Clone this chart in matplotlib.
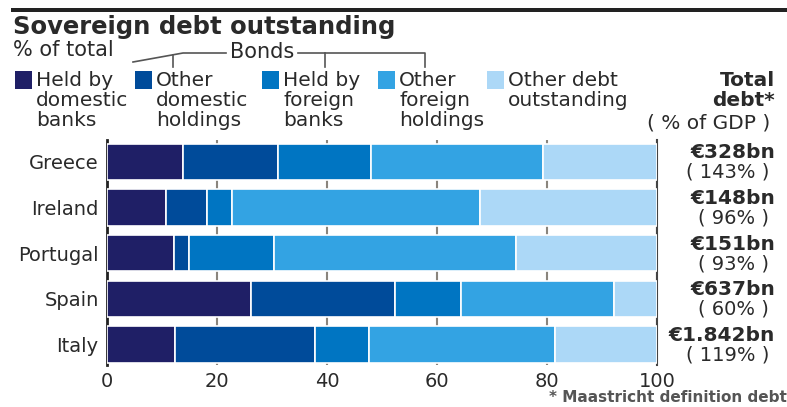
import matplotlib.pyplot as plt
from matplotlib.transforms import blended_transform_factory
from matplotlib.lines import Line2D
from matplotlib.patches import Rectangle

countries = ['Greece', 'Ireland', 'Portugal', 'Spain', 'Italy']
held_domestic_banks = [13.9, 10.7, 12.2, 26.1, 12.3]
other_domestic = [17.2, 7.4, 2.7, 26.2, 25.5]
held_foreign_banks = [16.8, 4.7, 15.4, 12.1, 9.9]
other_foreign = [31.3, 45.0, 44.0, 27.8, 33.7]
other_debt = [20.8, 32.2, 25.7, 7.8, 18.6]
total_debt = ['€328bn', '€148bn', '€151bn', '€637bn', '€1.842bn']
pct_gdp = ['( 143% )', '( 96% )', '( 93% )', '( 60% )', '( 119% )']

series = [held_domestic_banks, other_domestic, held_foreign_banks, other_foreign, other_debt]
colors = ['#1f1f66', '#004b9a', '#0075c2', '#33a3e3', '#acd8f7']
legend_labels = ['Held by\ndomestic\nbanks', 'Other\ndomestic\nholdings', 'Held by\nforeign\nbanks',
                 'Other\nforeign\nholdings', 'Other debt\noutstanding']

txt = '#2a2a2a'
fig = plt.figure(figsize=(7.87, 4.07), dpi=100)
ax = fig.add_axes([0.136, 0.103, 0.699, 0.553])

ypos = list(range(len(countries)))
left = [0] * len(countries)
for vals, c in zip(series, colors):
    ax.barh(ypos, vals, left=left, height=0.8, color=c, edgecolor='white', linewidth=1.2, zorder=3)
    left = [l + v for l, v in zip(left, vals)]

ax.set_xlim(0, 100)
ax.set_ylim(4.45, -0.48)
ax.set_xticks([0, 20, 40, 60, 80, 100])
ax.set_yticks(ypos)
ax.set_yticklabels(countries, fontsize=14, color=txt)
ax.tick_params(axis='y', length=0, pad=6)
ax.tick_params(axis='x', length=0, labelsize=14, colors=txt, pad=5)
ax.grid(axis='x', color='#8a857d', linewidth=1.5, zorder=0)
for s in ['top', 'bottom']:
    ax.spines[s].set_visible(False)
ax.spines['left'].set_color('#222222')
ax.spines['left'].set_linewidth(2)
ax.spines['right'].set_color('#444444')
ax.spines['right'].set_linewidth(1.5)

# right side totals
tr = blended_transform_factory(fig.transFigure, ax.transData)
for i in ypos:
    ax.text(775 / 787, i - 0.2, total_debt[i], transform=tr, ha='right', va='center',
            fontsize=14.5, fontweight='bold', color=txt)
    ax.text(769 / 787, i + 0.23, pct_gdp[i], transform=tr, ha='right', va='center',
            fontsize=14, color=txt)

# header
fig.add_artist(Rectangle((11 / 787, 1 - 12 / 407), 1, 4 / 407, transform=fig.transFigure,
                         color='#222222', lw=0))
fig.text(13 / 787, 1 - 27 / 407, 'Sovereign debt outstanding', fontsize=17.5, fontweight='bold',
         color=txt, va='center')
fig.text(13 / 787, 1 - 50 / 407, '% of total', fontsize=15, color=txt, va='center')
fig.text(262 / 787, 1 - 52 / 407, 'Bonds', fontsize=15, color=txt, va='center', ha='center')

def fl(xs, ys):
    fig.add_artist(Line2D([x / 787 for x in xs], [1 - y / 407 for y in ys],
                          transform=fig.transFigure, color='#555555', lw=1.2))

fl([133, 183, 226], [62, 53, 53])
fl([173, 173], [55, 67])
fl([298, 425, 425], [53, 53, 67])
fl([325, 325], [53, 67])

sq_x = [15, 135, 262, 378, 487]
for x, c, lab in zip(sq_x, colors, legend_labels):
    fig.add_artist(Rectangle((x / 787, 1 - 89 / 407), 17 / 787, 18 / 407,
                             transform=fig.transFigure, color=c, lw=0))
    fig.text((x + 21) / 787, 1 - 71 / 407, lab, fontsize=14.5, color=txt, va='top',
             linespacing=1.06)

fig.text(775 / 787, 1 - 71 / 407, 'Total\ndebt*', fontsize=14.5, fontweight='bold',
         color=txt, va='top', ha='right', linespacing=1.08)
fig.text(770 / 787, 1 - 123 / 407, '( % of GDP )', fontsize=14.5, color=txt, va='center', ha='right')

fig.text(787 / 787, 1 - 397 / 407, '* Maastricht definition debt', fontsize=11,
         fontweight='bold', color='#555555', va='center', ha='right')

fig.savefig('out.png', dpi=100)
